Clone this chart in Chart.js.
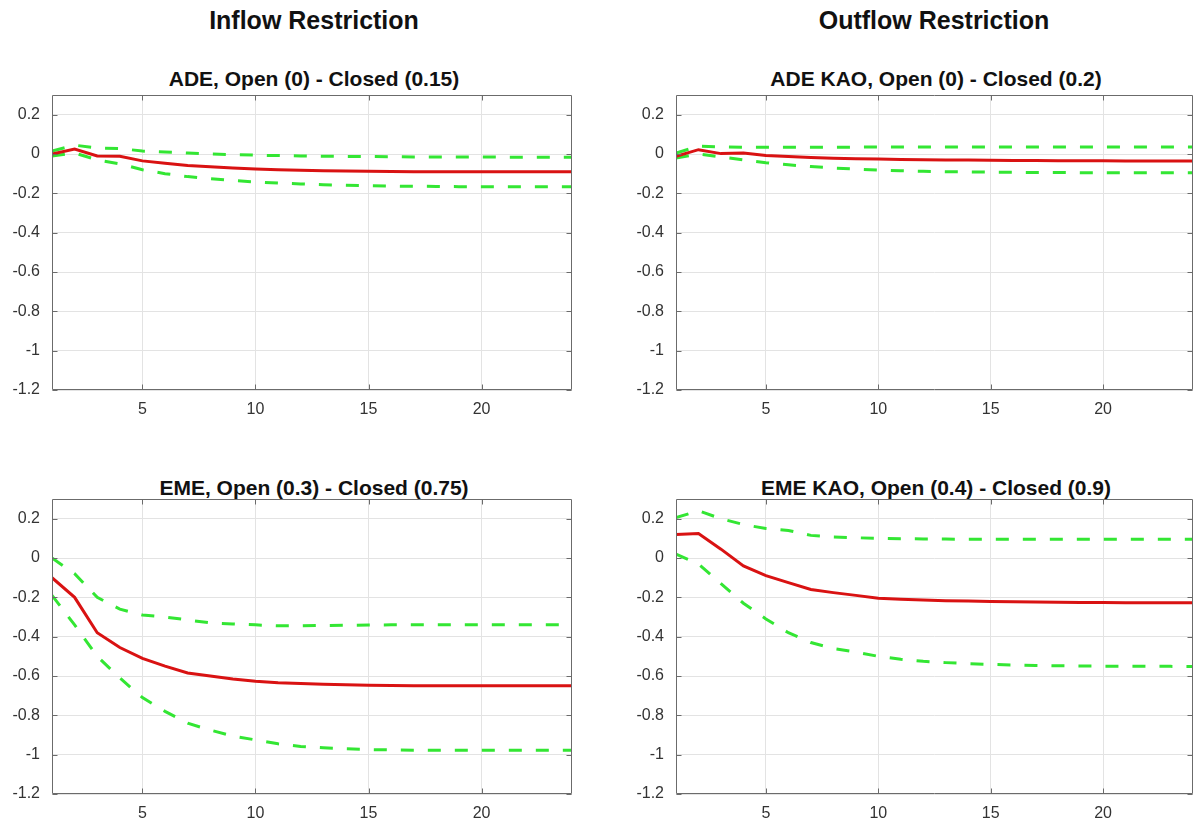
<!DOCTYPE html>
<html>
<head>
<meta charset="utf-8">
<script src="https://cdn.jsdelivr.net/npm/chart.js@4.4.1/dist/chart.umd.min.js"></script>
<style>
  html, body { margin: 0; padding: 0; background: #ffffff; }
  body { width: 1194px; height: 824px; position: relative; overflow: hidden; font-family: "Liberation Sans", Arial, sans-serif; }
  .wrap { position: absolute; }
  .ttl { position: absolute; transform: translateX(-50%); white-space: nowrap; font-weight: bold; color: #111; line-height: 1; }
  .main { font-size: 25px; }
  .sub { font-size: 21px; }
</style>
</head>
<body>
<div class="ttl main" style="left:314px; top:8px;">Inflow Restriction</div>
<div class="ttl main" style="left:934px; top:8px;">Outflow Restriction</div>
<div class="ttl sub" style="left:314px; top:68px;">ADE, Open (0) - Closed (0.15)</div>
<div class="ttl sub" style="left:936px; top:68px;">ADE KAO, Open (0) - Closed (0.2)</div>
<div class="ttl sub" style="left:314px; top:477px;">EME, Open (0.3) - Closed (0.75)</div>
<div class="ttl sub" style="left:936px; top:477px;">EME KAO, Open (0.4) - Closed (0.9)</div>

<div class="wrap" style="left:0px; top:85px; width:590px; height:339px;"><canvas id="c1"></canvas></div>
<div class="wrap" style="left:620px; top:85px; width:574px; height:339px;"><canvas id="c2"></canvas></div>
<div class="wrap" style="left:0px; top:489px; width:590px; height:335px;"><canvas id="c3"></canvas></div>
<div class="wrap" style="left:620px; top:489px; width:574px; height:335px;"><canvas id="c4"></canvas></div>

<script>
// ---- data ----
const periods = [1,2,3,4,5,6,7,8,9,10,11,12,13,14,15,16,17,18,19,20,21,22,23,24];
const xTickValues = [5, 10, 15, 20];
const yTickValues = [-1.2, -1.0, -0.8, -0.6, -0.4, -0.2, 0, 0.2];

// ADE, inflow restriction
const adeInMedian = [0.00, 0.025, -0.01, -0.012, -0.035, -0.047, -0.058, -0.065, -0.071, -0.076, -0.080, -0.083, -0.085, -0.087, -0.088, -0.089, -0.090, -0.090, -0.090, -0.090, -0.090, -0.090, -0.090, -0.090];
const adeInUpper  = [0.015, 0.045, 0.03, 0.028, 0.015, 0.010, 0.005, 0.000, -0.003, -0.006, -0.008, -0.010, -0.011, -0.012, -0.013, -0.014, -0.015, -0.015, -0.015, -0.015, -0.016, -0.016, -0.016, -0.016];
const adeInLower  = [-0.01, 0.005, -0.03, -0.05, -0.08, -0.10, -0.115, -0.125, -0.135, -0.142, -0.148, -0.152, -0.156, -0.159, -0.161, -0.163, -0.164, -0.165, -0.166, -0.166, -0.167, -0.167, -0.167, -0.167];

// ADE KAO, outflow restriction
const adeOutMedian = [-0.012, 0.022, 0.002, 0.005, -0.008, -0.013, -0.018, -0.021, -0.024, -0.026, -0.028, -0.029, -0.030, -0.031, -0.032, -0.033, -0.033, -0.034, -0.034, -0.034, -0.035, -0.035, -0.035, -0.035];
const adeOutUpper  = [0.005, 0.04, 0.036, 0.034, 0.034, 0.034, 0.034, 0.034, 0.035, 0.035, 0.035, 0.035, 0.035, 0.035, 0.035, 0.035, 0.035, 0.035, 0.035, 0.035, 0.035, 0.035, 0.035, 0.035];
const adeOutLower  = [-0.02, 0.0, -0.015, -0.03, -0.044, -0.055, -0.064, -0.071, -0.077, -0.082, -0.085, -0.088, -0.090, -0.091, -0.092, -0.093, -0.094, -0.094, -0.095, -0.095, -0.095, -0.095, -0.095, -0.095];

// EME, inflow restriction
const emeInMedian = [-0.10, -0.20, -0.38, -0.455, -0.51, -0.55, -0.585, -0.60, -0.615, -0.627, -0.634, -0.638, -0.642, -0.645, -0.647, -0.648, -0.649, -0.650, -0.650, -0.650, -0.650, -0.650, -0.650, -0.650];
const emeInUpper  = [0.0, -0.08, -0.20, -0.26, -0.29, -0.30, -0.315, -0.33, -0.335, -0.34, -0.345, -0.345, -0.343, -0.342, -0.341, -0.340, -0.340, -0.340, -0.340, -0.340, -0.340, -0.340, -0.340, -0.340];
const emeInLower  = [-0.19, -0.34, -0.50, -0.61, -0.71, -0.78, -0.84, -0.875, -0.905, -0.925, -0.945, -0.958, -0.965, -0.970, -0.974, -0.976, -0.977, -0.978, -0.978, -0.978, -0.978, -0.978, -0.978, -0.978];

// EME KAO, outflow restriction
const emeOutMedian = [0.12, 0.125, 0.045, -0.04, -0.09, -0.125, -0.16, -0.176, -0.19, -0.205, -0.210, -0.214, -0.217, -0.219, -0.221, -0.223, -0.224, -0.225, -0.226, -0.226, -0.227, -0.227, -0.227, -0.227];
const emeOutUpper  = [0.205, 0.24, 0.20, 0.17, 0.15, 0.14, 0.115, 0.107, 0.103, 0.100, 0.098, 0.097, 0.096, 0.095, 0.095, 0.095, 0.095, 0.095, 0.095, 0.095, 0.095, 0.095, 0.095, 0.095];
const emeOutLower  = [0.02, -0.03, -0.13, -0.23, -0.31, -0.38, -0.43, -0.46, -0.478, -0.50, -0.515, -0.525, -0.532, -0.537, -0.541, -0.544, -0.546, -0.548, -0.549, -0.550, -0.550, -0.551, -0.551, -0.552];

// ---- drawing ----
const RED = '#d91212';
const GREEN = '#33e633';
const FONT = '"Liberation Sans", Arial, sans-serif';

const boxPlugin = {
  id: 'matlabBox',
  afterDraw(chart) {
    const { ctx, chartArea: a, scales } = chart;
    ctx.save();
    ctx.strokeStyle = '#6b6b6b';
    ctx.lineWidth = 1;
    ctx.beginPath();
    const L = Math.round(a.left) + 0.5, R = Math.round(a.right) - 0.5;
    const T = Math.round(a.top) + 0.5, B = Math.round(a.bottom) - 0.5;
    ctx.rect(L, T, R - L, B - T);
    const tl = 5;
    xTickValues.forEach(v => {
      const px = Math.round(scales.x.getPixelForValue(v)) + 0.5;
      ctx.moveTo(px, B); ctx.lineTo(px, B - tl);
      ctx.moveTo(px, T); ctx.lineTo(px, T + tl);
    });
    yTickValues.forEach(v => {
      const py = Math.round(scales.y.getPixelForValue(v)) + 0.5;
      ctx.moveTo(L, py); ctx.lineTo(L + tl, py);
      ctx.moveTo(R, py); ctx.lineTo(R - tl, py);
    });
    ctx.stroke();
    ctx.restore();
  }
};

function pts(vals) { return periods.map((p, i) => ({ x: p, y: vals[i] })); }

function makeChart(id, median, upper, lower, yAxisWidth, padRight) {
  const canvas = document.getElementById(id);
  const parent = canvas.parentElement;
  const H = parent.clientHeight;
  return new Chart(canvas, {
    type: 'line',
    data: {
      datasets: [
        { data: pts(median), borderColor: RED, borderWidth: 3, pointRadius: 0, tension: 0, fill: false },
        { data: pts(upper), borderColor: GREEN, borderWidth: 3, borderDash: [13, 14], pointRadius: 0, tension: 0, fill: false },
        { data: pts(lower), borderColor: GREEN, borderWidth: 3, borderDash: [13, 14], pointRadius: 0, tension: 0, fill: false }
      ]
    },
    options: {
      responsive: true,
      maintainAspectRatio: false,
      animation: false,
      events: [],
      layout: { padding: { top: 10, right: padRight, left: 0, bottom: 0 } },
      plugins: { legend: { display: false }, title: { display: false }, tooltip: { enabled: false } },
      scales: {
        x: {
          type: 'linear', min: 1, max: 24,
          afterBuildTicks: s => { s.ticks = xTickValues.map(v => ({ value: v })); },
          afterFit: s => { s.height = H - 10 - 295; s.paddingLeft = 0; s.paddingRight = 0; },
          grid: { color: '#e3e3e3', lineWidth: 1, drawTicks: false },
          border: { display: false },
          ticks: { color: '#333', padding: 10, font: { family: FONT, size: 16 }, callback: v => String(v), maxRotation: 0 }
        },
        y: {
          type: 'linear', min: -1.2, max: 0.3,
          afterBuildTicks: s => { s.ticks = yTickValues.map(v => ({ value: v })); },
          afterFit: s => { s.width = yAxisWidth; s.paddingTop = 0; s.paddingBottom = 0; },
          grid: { color: '#e3e3e3', lineWidth: 1, drawTicks: false },
          border: { display: false },
          ticks: { color: '#333', padding: 12, font: { family: FONT, size: 16 }, callback: v => String(Number(v.toFixed(1))) }
        }
      }
    },
    plugins: [boxPlugin]
  });
}

makeChart('c1', adeInMedian, adeInUpper, adeInLower, 52, 18);
makeChart('c2', adeOutMedian, adeOutUpper, adeOutLower, 56, 1);
makeChart('c3', emeInMedian, emeInUpper, emeInLower, 52, 18);
makeChart('c4', emeOutMedian, emeOutUpper, emeOutLower, 56, 1);
</script>
</body>
</html>
